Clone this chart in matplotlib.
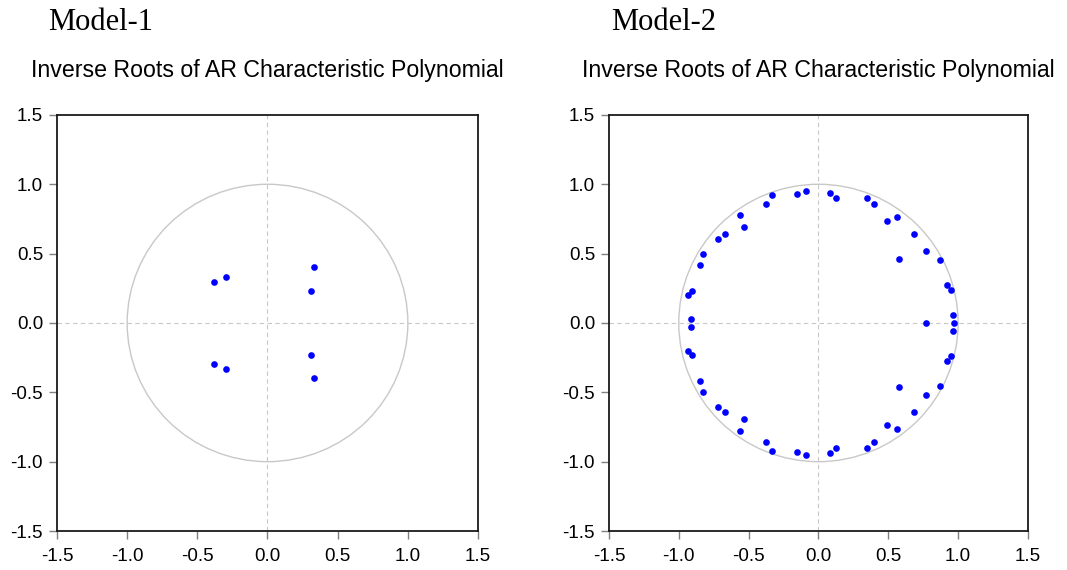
import numpy as np
import matplotlib.pyplot as plt
from matplotlib.patches import Circle

m1_re = [-0.384, -0.384, -0.298, -0.298, 0.328, 0.328, 0.308, 0.308]
m1_im = [0.296, -0.296, 0.332, -0.332, 0.400, -0.400, 0.233, -0.233]

m2_re = [-0.092, -0.156, -0.334, -0.379, -0.559, -0.536, -0.671, -0.716,
         -0.827, -0.848, -0.903, -0.936, -0.910,
         0.080, 0.128, 0.348, 0.400, 0.490, 0.560, 0.681, 0.576,
         0.769, 0.869, 0.919, 0.950, 0.964,
         -0.092, -0.156, -0.334, -0.379, -0.559, -0.536, -0.671, -0.716,
         -0.827, -0.848, -0.903, -0.936, -0.910,
         0.080, 0.128, 0.348, 0.400, 0.490, 0.560, 0.681, 0.576,
         0.769, 0.869, 0.919, 0.950, 0.964,
         0.767, 0.974]
m2_im = [0.949, 0.928, 0.923, 0.858, 0.778, 0.689, 0.639, 0.605,
         0.496, 0.419, 0.234, 0.200, 0.030,
         0.935, 0.898, 0.898, 0.857, 0.738, 0.767, 0.643, 0.462,
         0.517, 0.452, 0.271, 0.238, 0.058,
         -0.949, -0.928, -0.923, -0.858, -0.778, -0.689, -0.639, -0.605,
         -0.496, -0.419, -0.234, -0.200, -0.030,
         -0.935, -0.898, -0.898, -0.857, -0.738, -0.767, -0.643, -0.462,
         -0.517, -0.452, -0.271, -0.238, -0.058,
         0.0, 0.0]

ticks = [-1.5, -1.0, -0.5, 0.0, 0.5, 1.0, 1.5]
tick_labels = ['-1.5', '-1.0', '-0.5', '0.0', '0.5', '1.0', '1.5']

plt.rcParams['font.family'] = 'Liberation Sans'

fig = plt.figure(figsize=(10.67, 5.7), dpi=100)
ax1 = fig.add_axes([0.0534, 0.0684, 0.3946, 0.730])
ax2 = fig.add_axes([0.5707, 0.0684, 0.3927, 0.730])


def draw(ax, re, im):
    ax.add_patch(Circle((0, 0), 1.0, fill=False, edgecolor='#c8c8c8', lw=1.0))
    ax.axhline(0, color='#c8c8c8', lw=0.8, ls=(0, (4, 3)))
    ax.axvline(0, color='#c8c8c8', lw=0.8, ls=(0, (4, 3)))
    ax.plot(re, im, 'o', color='#0000ff', markersize=4.8, mec='none')
    ax.set_xlim(-1.5, 1.5)
    ax.set_ylim(-1.5, 1.5)
    ax.set_xticks(ticks)
    ax.set_xticklabels(tick_labels)
    ax.set_yticks(ticks)
    ax.set_yticklabels(tick_labels)
    ax.tick_params(direction='out', length=6, width=1, color='#808080',
                   labelsize=13.5)
    ax.tick_params(axis='x', pad=6)
    ax.tick_params(axis='y', pad=4)
    for s in ax.spines.values():
        s.set_linewidth(1.3)
        s.set_color('#1a1a1a')
    ax.set_title('Inverse Roots of AR Characteristic Polynomial', fontsize=16.7, pad=27)


draw(ax1, m1_re, m1_im)
draw(ax2, m2_re, m2_im)

fig.text(0.045, 0.947, 'Model-1', family='Liberation Serif', fontsize=22, va='baseline')
fig.text(0.573, 0.947, 'Model-2', family='Liberation Serif', fontsize=22, va='baseline')

fig.savefig('out.png', dpi=100)
